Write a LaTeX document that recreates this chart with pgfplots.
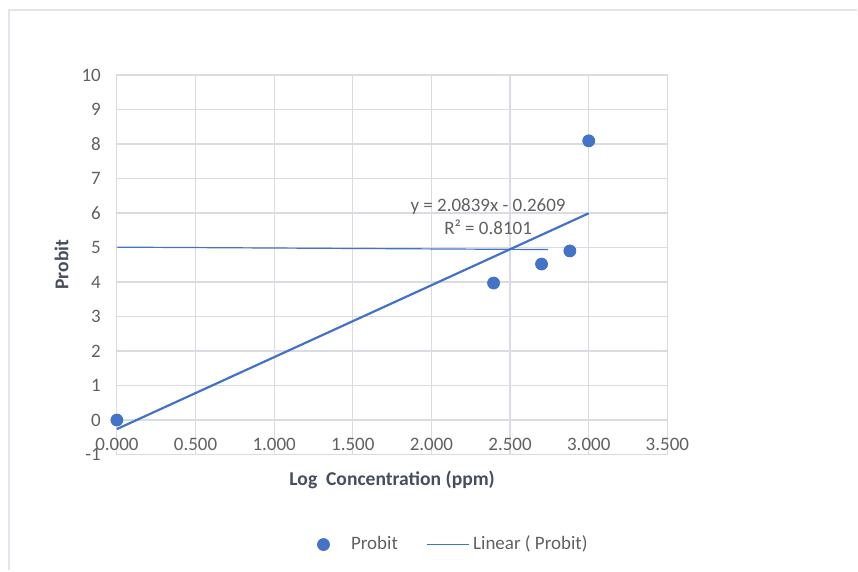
\documentclass[border=0pt]{standalone}
\usepackage{pgfplots}
\pgfplotsset{compat=1.18}
\usepackage{fontspec}
\setmainfont{Carlito}
\definecolor{xlblue}{RGB}{68,114,196}
\definecolor{gridc}{RGB}{217,220,226}
\definecolor{tickc}{RGB}{96,96,96}
\definecolor{labc}{RGB}{70,78,94}
\definecolor{framec}{RGB}{226,229,236}
\begin{document}
\begin{tikzpicture}[x=1pt,y=1pt]
\path (0,0) rectangle (429,285.5);
\draw[framec, line width=0.8pt] (4.5,0) -- (4.5,280.5) -- (429,280.5);
\begin{axis}[
  at={(58.5pt,58pt)}, anchor=south west,
  scale only axis, width=275.5pt, height=190pt,
  xmin=0, xmax=3.5, ymin=-1, ymax=10,
  xtick={0,0.5,1,1.5,2,2.5,3,3.5}, ytick={-1,0,1,2,3,4,5,6,7,8,9,10},
  xticklabels={0.000,0.500,1.000,1.500,2.000,2.500,3.000,3.500},
  grid=major, major grid style={gridc, line width=0.6pt},
  axis line style={gridc, line width=0.6pt},
  tick style={draw=none},
  tick label style={font=\fontsize{9.5}{11}\selectfont, text=tickc},
  xticklabel style={anchor=center, yshift=5pt},
  yticklabel style={xshift=-4.5pt},
  /pgf/number format/assume math mode=true,
  xlabel={\textbf{Log\ \ Concentration (ppm)}},
  ylabel={\textbf{Probit}},
  label style={font=\fontsize{9.8}{11}\selectfont, text=labc},
  xlabel style={at={(axis description cs:0.5,-0.024)}, anchor=north},
  ylabel style={at={(axis description cs:-0.075,0.5)}, anchor=south},
  legend columns=2,
  legend style={at={(axis description cs:0.613,-0.237)}, anchor=center,
    draw=none, fill=none, font=\fontsize{9.5}{11}\selectfont, text=tickc,
    /tikz/every even column/.append style={column sep=12pt}},
  legend image code/.code={},
  clip=false,
]
\addplot[only marks, mark=*, mark size=3pt, color=xlblue,
  legend image code/.code={\draw[xlblue, fill=xlblue] (0.2cm,0cm) circle (3pt);}]
  coordinates {(0,0) (2.395,3.97) (2.70,4.52) (2.88,4.90) (3.0,8.09)};
\addlegendentry{\ \ \ \ Probit}
\addplot[xlblue, line width=1.1pt,
  legend image code/.code={\draw[xlblue, line width=0.7pt] (0cm,0cm) -- (21pt,0cm);}]
  coordinates {(0,-0.2609) (3.0,5.9908)};
\addlegendentry{Linear ( Probit)}
\addplot[xlblue, line width=0.6pt, forget plot]
  coordinates {(0,5.01) (2.74,4.94)};
\node[font=\fontsize{9.5}{11}\selectfont, text=tickc] at (axis cs:2.36,6.18) {y = 2.0839x - 0.2609};
\node[font=\fontsize{9.5}{11}\selectfont, text=tickc] at (axis cs:2.36,5.6) {R² = 0.8101};
\end{axis}
\end{tikzpicture}
\end{document}
